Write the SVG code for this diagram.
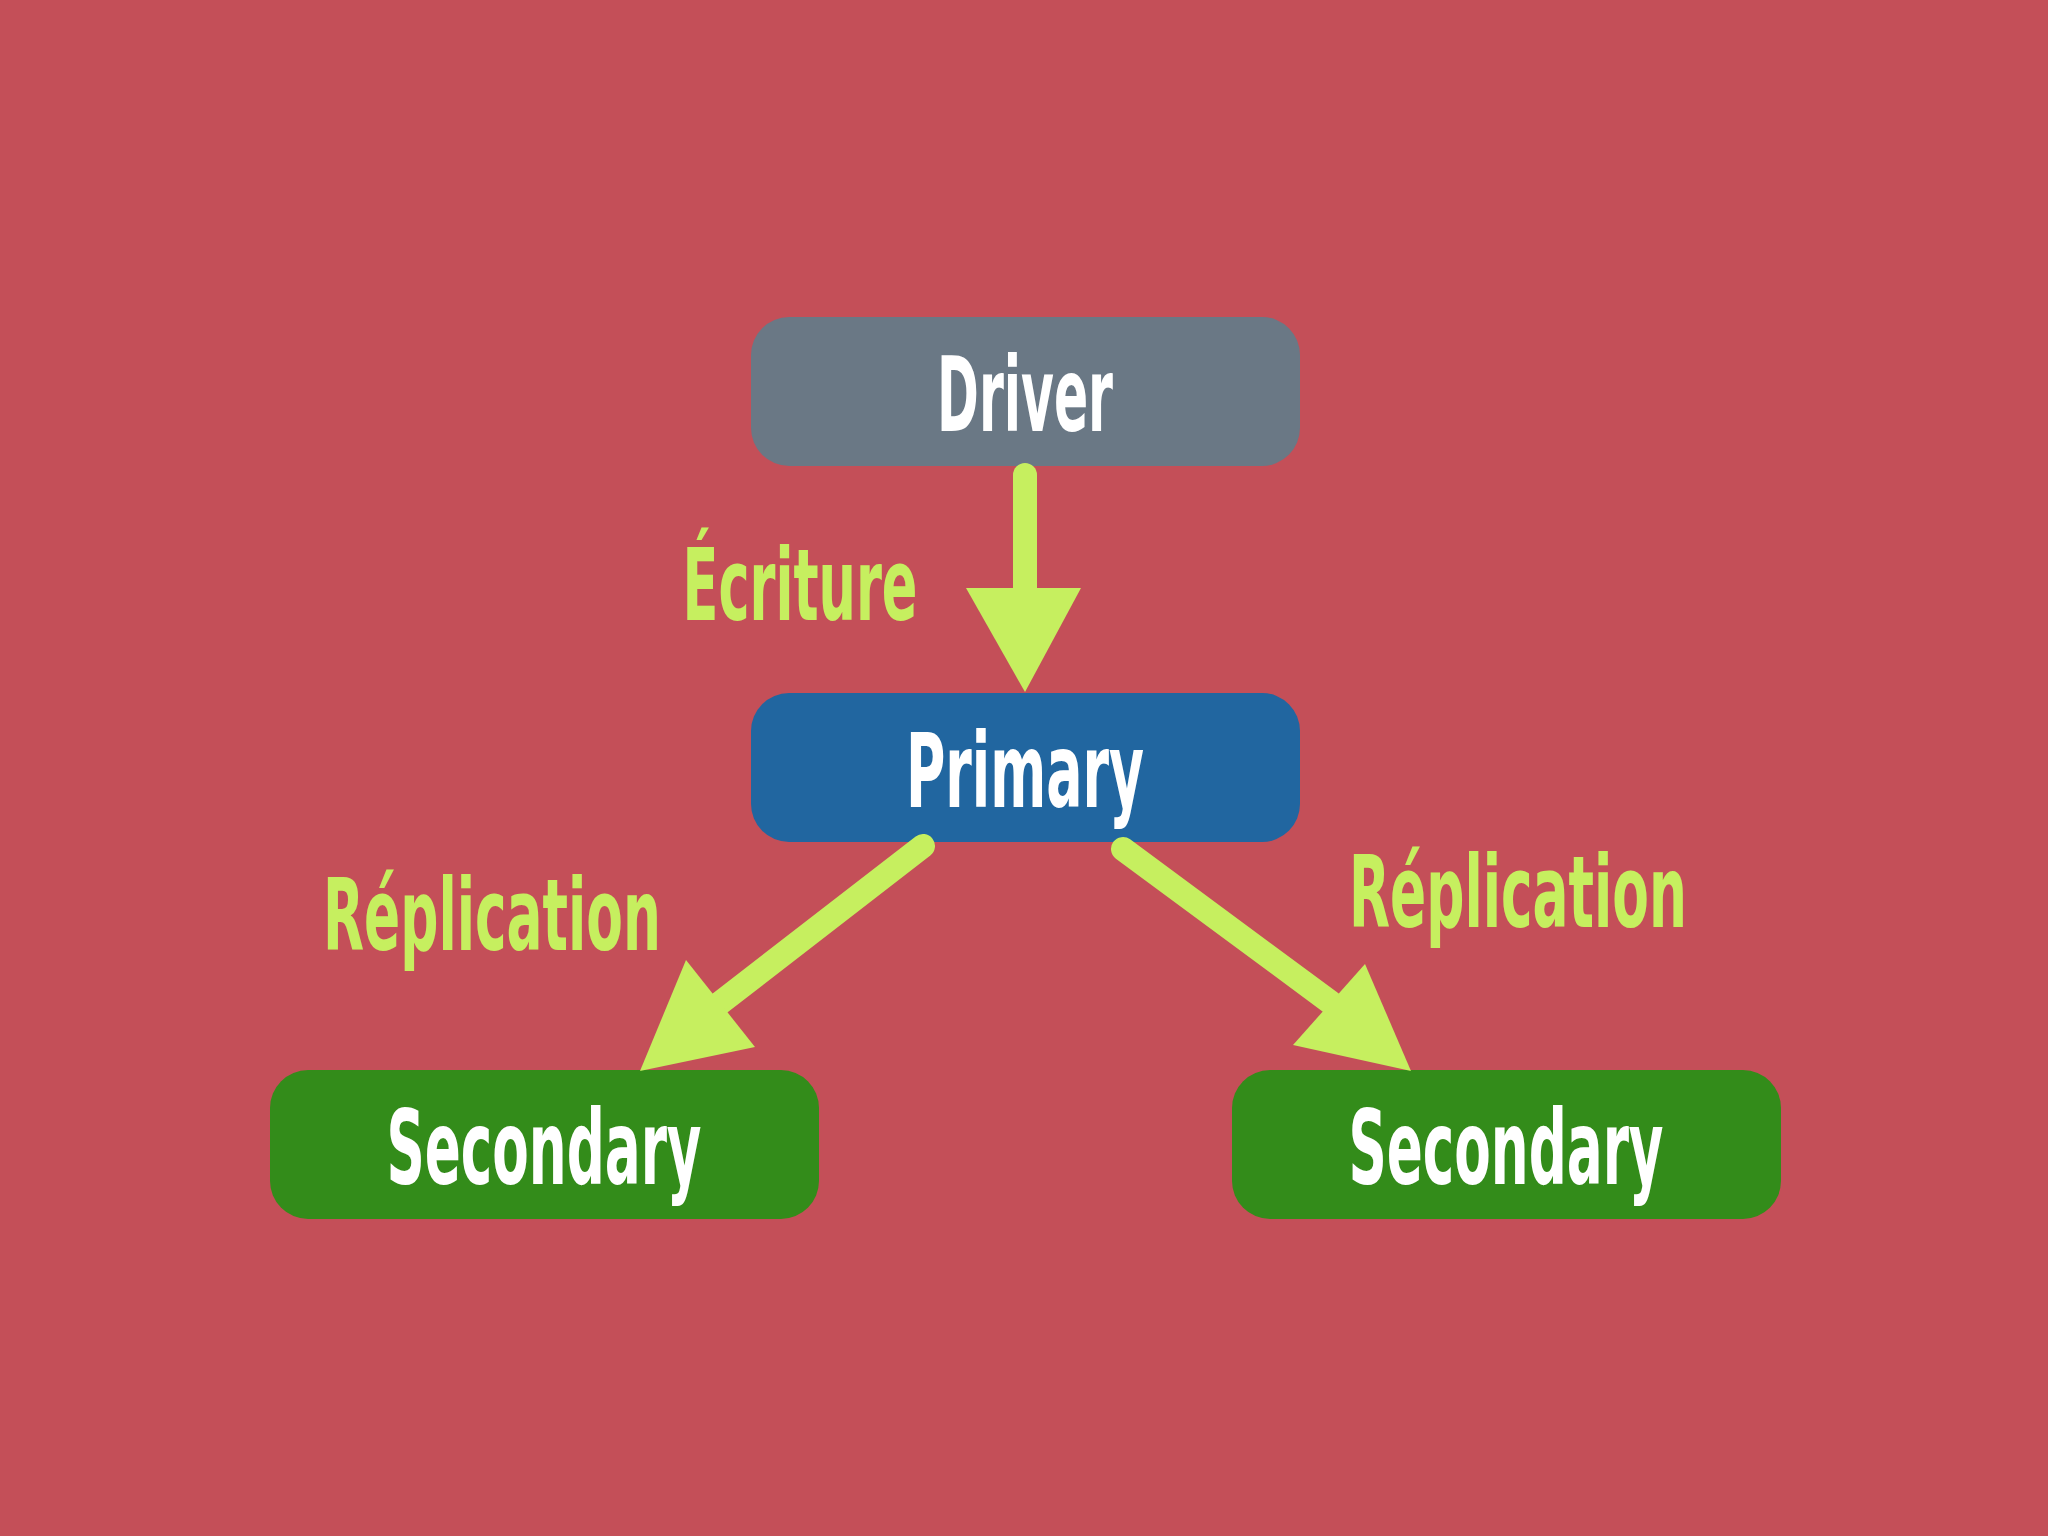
<svg xmlns="http://www.w3.org/2000/svg" width="2048" height="1536" viewBox="0 0 2048 1536">
<style>
.t{font-family:"DejaVu Sans Condensed","Liberation Sans",sans-serif;font-weight:bold;text-anchor:middle}
.n{fill:#fff;font-size:104px}
.l{fill:#C6EF5F;font-size:100px}
.sh{stroke:#C6EF5F;stroke-width:24;stroke-linecap:round;fill:none}
.hd{fill:#C6EF5F}
</style>
<rect width="2048" height="1536" fill="#C44F58"/>
<g id="driver"><rect x="751" y="317" width="549" height="149" rx="38" fill="#6A7885"/><text class="t n" x="1025" y="431" textLength="176" lengthAdjust="spacingAndGlyphs">Driver</text></g>
<g id="primary"><rect x="751" y="693" width="549" height="149" rx="38" fill="#2166A0"/><text class="t n" x="1025" y="807" textLength="238" lengthAdjust="spacingAndGlyphs">Primary</text></g>
<g id="secondary1"><rect x="270" y="1070" width="549" height="149" rx="38" fill="#338C1A"/><text class="t n" x="544" y="1184" textLength="315" lengthAdjust="spacingAndGlyphs">Secondary</text></g>
<g id="secondary2"><rect x="1232" y="1070" width="549" height="149" rx="38" fill="#338C1A"/><text class="t n" x="1506" y="1184" textLength="315" lengthAdjust="spacingAndGlyphs">Secondary</text></g>
<g id="connectors">
<line class="sh" x1="1025" y1="475" x2="1025" y2="590"/>
<polygon class="hd" points="966,588 1081,588 1025,692"/>
<line class="sh" x1="923" y1="846" x2="720" y2="1003"/>
<polygon class="hd" points="640,1071 686,960 755,1047"/>
<line class="sh" x1="1123" y1="849" x2="1330" y2="1002"/>
<polygon class="hd" points="1411,1071 1365,964 1293,1045"/>
</g>
<g id="labels">
<text class="t l" x="800" y="620" textLength="235" lengthAdjust="spacingAndGlyphs">Écriture</text>
<text class="t l" x="492" y="950" textLength="338" lengthAdjust="spacingAndGlyphs">Réplication</text>
<text class="t l" x="1518" y="927" textLength="338" lengthAdjust="spacingAndGlyphs">Réplication</text>
</g>
</svg>
